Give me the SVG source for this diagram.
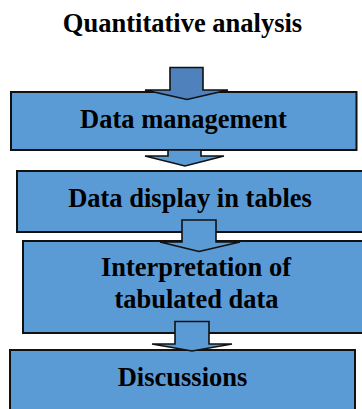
<svg xmlns="http://www.w3.org/2000/svg" width="362" height="409" viewBox="0 0 362 409">
  <style>
    .box { fill: #5b9bd5; stroke: #111; stroke-width: 2; }
    .arrow { fill: #5b9bd5; stroke: #111; stroke-width: 1.6; stroke-linejoin: miter; }
    .arrow.dark { fill: #4f81bd; }
    text { font-family: "Liberation Serif", "Times New Roman", serif; font-weight: bold; font-size: 26.5px; fill: #000; text-anchor: middle; }
  </style>
  <rect width="362" height="409" fill="#fff"/>

  <text id="title" x="182.5" y="31.5">Quantitative analysis</text>

  <g id="node-management">
    <rect class="box" x="11" y="92" width="345.5" height="58"/>
    <text x="183.5" y="128">Data management</text>
  </g>
  <g id="node-display">
    <rect class="box" x="17" y="171" width="352" height="61"/>
    <text x="190" y="207">Data display in tables</text>
  </g>
  <g id="node-interpretation">
    <rect class="box" x="23" y="241" width="346" height="92"/>
    <text x="196" y="276">Interpretation of</text>
    <text x="196.5" y="307.5">tabulated data</text>
  </g>
  <g id="node-discussions">
    <rect class="box" x="10" y="350" width="345" height="70"/>
    <text x="182.5" y="386">Discussions</text>
  </g>

  <g id="connectors">
    <polygon class="arrow dark" points="170,67.5 203,67.5 203,90 228,90 187,99.5 145,90 170,90"/>
    <polygon class="arrow" points="168,150 201,150 201,156 224,156 185,166 145,156 168,156"/>
    <polygon class="arrow" points="182,220 216,220 216,242 240,242 199,251.5 160,242 182,242"/>
    <polygon class="arrow" points="175,321.5 209,321.5 209,344 232,344 192,351 152,344 175,344"/>
  </g>
</svg>
